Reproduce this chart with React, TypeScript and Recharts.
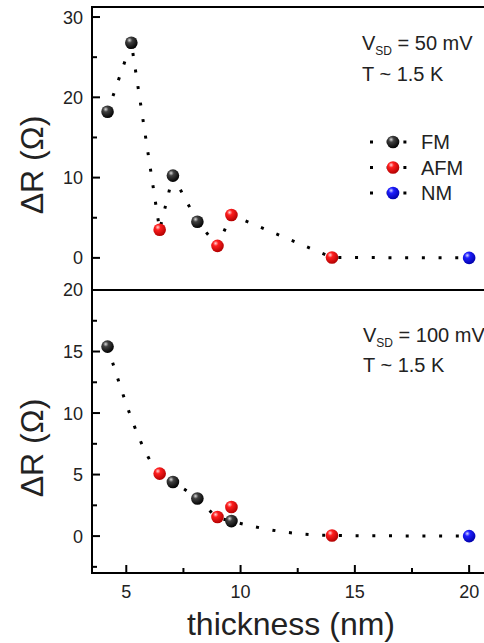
import React from 'react';
import { ComposedChart, Line, Scatter, XAxis, YAxis, ReferenceArea, Legend } from 'recharts';

// thickness (nm) vs ΔR (Ω)
const topFM = [
  { x: 4.18, y: 18.2 },
  { x: 5.22, y: 26.8 },
  { x: 7.04, y: 10.25 },
  { x: 8.11, y: 4.5 },
];
const topAFM = [
  { x: 6.46, y: 3.5 },
  { x: 8.99, y: 1.5 },
  { x: 9.6, y: 5.35 },
  { x: 14, y: 0.05 },
];
const topNM = [{ x: 20, y: 0 }];

const bottomFM = [
  { x: 4.18, y: 15.4 },
  { x: 7.04, y: 4.4 },
  { x: 8.11, y: 3.05 },
  { x: 9.6, y: 1.22 },
];
const bottomAFM = [
  { x: 6.46, y: 5.08 },
  { x: 8.99, y: 1.55 },
  { x: 9.6, y: 2.36, offTrend: true },
  { x: 14, y: 0.05 },
];
const bottomNM = [{ x: 20, y: 0 }];

const phases = ['FM', 'AFM', 'NM'];
const xTicks = [5, 7.5, 10, 12.5, 15, 17.5, 20];
const topYTicks = [0, 5, 10, 15, 20, 25, 30];
const bottomYTicks = [-2.5, 0, 2.5, 5, 7.5, 10, 12.5, 15, 17.5, 20];

const byX = (a: { x: number }, b: { x: number }) => a.x - b.x;
const topTrend = [...topFM, ...topAFM, ...topNM].sort(byX);
const bottomTrend = [...bottomFM, ...bottomAFM.filter(p => !p.offTrend), ...bottomNM].sort(byX);

const FONT = '"Liberation Sans", Arial, Helvetica, sans-serif';
const GRAD: Record<string, string> = { FM: 'url(#ballFM)', AFM: 'url(#ballAFM)', NM: 'url(#ballNM)' };

const ball = (name: string) => (props: any) => (
  <circle cx={props.cx} cy={props.cy} r={6.3} fill={GRAD[name]} />
);

const YTick = (props: any) => {
  const { x, y, payload, step } = props;
  const major = payload.value % step === 0;
  return (
    <g>
      <line x1={x} x2={x + (major ? 8 : 5)} y1={y} y2={y} stroke="#000" strokeWidth={2} />
      {major && (
        <text x={x - 9} y={y} dy="0.36em" textAnchor="end" fontSize={18} fontFamily={FONT} fill="#222">
          {payload.value}
        </text>
      )}
    </g>
  );
};

const XTick = (props: any) => {
  const { x, y, payload, showLabel } = props;
  const major = payload.value % 5 === 0;
  return (
    <g>
      <line x1={x} x2={x} y1={y} y2={y - (major ? 8 : 5)} stroke="#000" strokeWidth={2} />
      {showLabel && major && (
        <text x={x} y={y + 19} dy="0.36em" textAnchor="middle" fontSize={18} fontFamily={FONT} fill="#222">
          {payload.value}
        </text>
      )}
    </g>
  );
};

const LegendBox = (props: any) => {
  const items = (props.payload || [])
    .filter((p: any) => p.type !== 'none')
    .sort((a: any, b: any) => phases.indexOf(a.value) - phases.indexOf(b.value));
  return (
    <svg width={110} height={80}>
      {items.map((item: any, i: number) => {
        const cy = 12 + i * 25.5;
        return (
          <g key={item.value}>
            <line x1={5} x2={42} y1={cy} y2={cy} stroke="#000" strokeWidth={3} strokeDasharray="3 13.7" />
            <circle cx={28} cy={cy} r={6.3} fill={GRAD[item.value]} />
            <text x={56} y={cy} dy="0.36em" fontSize={20} fontFamily={FONT} fill="#222">
              {item.value}
            </text>
          </g>
        );
      })}
    </svg>
  );
};

const BallDefs = () => (
  <svg width={0} height={0} style={{ position: 'absolute' }}>
    <defs>
      <radialGradient id="ballFM" cx="0.38" cy="0.32" r="0.7" fx="0.35" fy="0.3">
        <stop offset="0" stopColor="#d8d8d8" />
        <stop offset="0.3" stopColor="#404040" />
        <stop offset="1" stopColor="#000" />
      </radialGradient>
      <radialGradient id="ballAFM" cx="0.38" cy="0.32" r="0.7" fx="0.35" fy="0.3">
        <stop offset="0" stopColor="#ffd6d6" />
        <stop offset="0.3" stopColor="#ff1e1e" />
        <stop offset="1" stopColor="#b00000" />
      </radialGradient>
      <radialGradient id="ballNM" cx="0.38" cy="0.32" r="0.7" fx="0.35" fy="0.3">
        <stop offset="0" stopColor="#d6d6ff" />
        <stop offset="0.3" stopColor="#1e1eff" />
        <stop offset="1" stopColor="#0000a8" />
      </radialGradient>
    </defs>
  </svg>
);

const dotted = { stroke: '#000', strokeWidth: 3, strokeDasharray: '3 13.7' };

const App: React.FC = () => {
  return (
    <div style={{ position: 'fixed', left: 0, top: 0, width: 484, height: 643, overflow: 'hidden', background: '#fff' }}>
      <BallDefs />
      <div style={{ position: 'absolute', left: 0, top: 0 }}>
        <ComposedChart width={500} height={292} margin={{ top: 7, right: 8, left: 0, bottom: 2 }}>
          <XAxis
            dataKey="x"
            type="number"
            domain={[3.5, 21]}
            ticks={xTicks}
            interval={0}
            height={0}
            tickSize={0}
            tickMargin={0}
            tickLine={false}
            allowDataOverflow
            axisLine={{ stroke: '#000', strokeWidth: 2 }}
            tick={(p: any) => <XTick {...p} showLabel={false} />}
          />
          <YAxis
            type="number"
            domain={[-4, 31.25]}
            ticks={topYTicks}
            interval={0}
            width={92}
            tickSize={0}
            tickMargin={0}
            tickLine={false}
            allowDataOverflow
            axisLine={{ stroke: '#000', strokeWidth: 2 }}
            tick={(p: any) => <YTick {...p} step={10} />}
          />
          <ReferenceArea x1={3.5} x2={21} y1={-4} y2={31.25} fill="none" stroke="#000" strokeWidth={2} />
          <Line data={topTrend} dataKey="y" type="linear" {...dotted} dot={false} activeDot={false} legendType="none" isAnimationActive={false} />
          <Scatter name="FM" data={topFM} dataKey="y" fill="#000" shape={ball('FM')} isAnimationActive={false} />
          <Scatter name="AFM" data={topAFM} dataKey="y" fill="#f00" shape={ball('AFM')} isAnimationActive={false} />
          <Scatter name="NM" data={topNM} dataKey="y" fill="#00f" shape={ball('NM')} isAnimationActive={false} />
          <Legend
            layout="vertical"
            align="center"
            verticalAlign="middle"
            content={LegendBox}
            wrapperStyle={{ left: 365, top: 130, width: 110, height: 80 }}
          />
        </ComposedChart>
      </div>
      <div style={{ position: 'absolute', left: 0, top: 270 }}>
        <ComposedChart width={500} height={373} margin={{ top: 20, right: 8, left: 0, bottom: 0 }}>
          <XAxis
            dataKey="x"
            type="number"
            domain={[3.5, 21]}
            ticks={xTicks}
            interval={0}
            height={70}
            tickSize={0}
            tickMargin={0}
            tickLine={false}
            allowDataOverflow
            axisLine={{ stroke: '#000', strokeWidth: 2 }}
            tick={(p: any) => <XTick {...p} showLabel />}
          />
          <YAxis
            type="number"
            domain={[-3, 20]}
            ticks={bottomYTicks}
            interval={0}
            width={92}
            tickSize={0}
            tickMargin={0}
            tickLine={false}
            allowDataOverflow
            axisLine={{ stroke: '#000', strokeWidth: 2 }}
            tick={(p: any) => <YTick {...p} step={5} />}
          />
          <ReferenceArea x1={3.5} x2={21} y1={-3} y2={20} fill="none" stroke="#000" strokeWidth={2} />
          <Line data={bottomTrend} dataKey="y" type="monotone" {...dotted} dot={false} activeDot={false} legendType="none" isAnimationActive={false} />
          <Scatter name="FM" data={bottomFM} dataKey="y" fill="#000" shape={ball('FM')} isAnimationActive={false} />
          <Scatter name="AFM" data={bottomAFM} dataKey="y" fill="#f00" shape={ball('AFM')} isAnimationActive={false} />
          <Scatter name="NM" data={bottomNM} dataKey="y" fill="#00f" shape={ball('NM')} isAnimationActive={false} />
        </ComposedChart>
      </div>
      <svg
        width={484}
        height={643}
        style={{ position: 'absolute', left: 0, top: 0, pointerEvents: 'none' }}
        fontFamily={FONT}
        fill="#222"
      >
        <text transform="translate(43,165) rotate(-90)" textAnchor="middle" fontSize={32}>ΔR (Ω)</text>
        <text transform="translate(43,448) rotate(-90)" textAnchor="middle" fontSize={32}>ΔR (Ω)</text>
        <text x={291} y={635} textAnchor="middle" fontSize={32}>thickness (nm)</text>

        <text x={362} y={50} fontSize={20}>
          V<tspan fontSize={12} dy={5}>SD</tspan>
          <tspan dy={-5}> = 50 mV</tspan>
        </text>
        <text x={362} y={81} fontSize={20}>T ~ 1.5 K</text>

        <text x={363} y={342} fontSize={20}>
          V<tspan fontSize={12} dy={5}>SD</tspan>
          <tspan dy={-5}> = 100 mV</tspan>
        </text>
        <text x={363} y={372} fontSize={20}>T ~ 1.5 K</text>
      </svg>
    </div>
  );
};

export default App;
